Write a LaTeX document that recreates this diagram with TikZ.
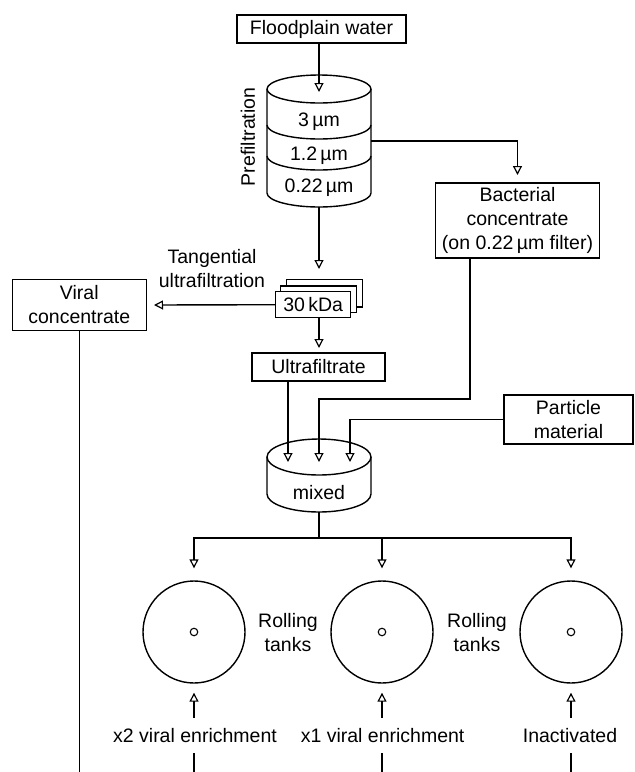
\documentclass[tikz,border=0pt]{standalone}
\usepackage{fontspec}
\setmainfont{Liberation Sans}
\usetikzlibrary{arrows.meta}
\begin{document}
\begin{tikzpicture}[x=1pt,y=-1pt,
  every node/.style={font=\fontsize{19.5}{24}\selectfont},
  box/.style={draw, line width=1.4pt, inner sep=0pt, align=center},
  conn/.style={line width=1.4pt},
  arr/.style={conn, -{Triangle[open,length=9pt,width=9pt,line width=1.2pt]}},
  lbl/.style={align=center, inner sep=0pt},
  tank/.style={draw, circle, line width=1.4pt, minimum size=102pt, inner sep=0pt},
  hub/.style={draw, circle, line width=1.1pt, minimum size=7.5pt, inner sep=0pt}]
\fill[white] (0,0) rectangle (635,772);
\useasboundingbox (0,0) rectangle (635,772);

% boxes
\node[box, minimum width=169pt, minimum height=28pt] (flood) at (321.5,29) {Floodplain water};
\node[box, minimum width=164pt, minimum height=75pt] (bact) at (517.5,220.5) {Bacterial\\concentrate\\(on 0.22\,µm filter)};
\node[box, minimum width=134pt, minimum height=51.5pt] (viral) at (79.3,305) {Viral\\concentrate};
\node[box, minimum width=133pt, minimum height=28pt] (ultra) at (318.5,367) {Ultrafiltrate};
\node[box, minimum width=129pt, minimum height=49pt] (part) at (568.5,419.5) {Particle\\material};

% filter stack
\node[box, fill=white, minimum width=76pt, minimum height=27.7pt] (s3) at (324.7,293.2) {};
\node[box, fill=white, minimum width=76pt, minimum height=26.7pt] (s2) at (318.7,299.3) {};
\node[box, fill=white, minimum width=75pt, minimum height=26pt] (s1) at (313.2,304.7) {30\,kDa};

% prefiltration cylinder
\draw[conn] (319,89) ellipse [x radius=52pt, y radius=14pt];
\draw[conn] (267,89) -- (267,193) arc[start angle=180, end angle=360, x radius=52pt, y radius=14pt] -- (371,89);
\draw[conn] (267,125) arc[start angle=180, end angle=360, x radius=52pt, y radius=14pt];
\draw[conn] (267,156) arc[start angle=180, end angle=360, x radius=52pt, y radius=14pt];
\node[lbl] (f3) at (319,122) {3\,µm};
\node[lbl] (f12) at (319,156) {1.2\,µm};
\node[lbl] (f022) at (319,188) {0.22\,µm};
\node[lbl, rotate=90] (pre) at (248,137) {Prefiltration};

% mixed cylinder
\draw[conn] (319,457) ellipse [x radius=52pt, y radius=18pt];
\draw[conn] (267,457) -- (267,494) arc[start angle=180, end angle=360, x radius=52pt, y radius=18pt] -- (371,457);
\node[lbl] (mixed) at (319,493) {mixed};

% labels
\node[lbl] (tang) at (212,269) {Tangential\\ultrafiltration};
\node[lbl] (roll1) at (288,632.5) {Rolling\\tanks};
\node[lbl] (roll2) at (477,632.5) {Rolling\\tanks};

% tanks
\node[tank] (tank1) at (194,632) {};
\node[tank] (tank2) at (382,632) {};
\node[tank] (tank3) at (571,632) {};
\node[hub] (h1) at (tank1) {};
\node[hub] (h2) at (tank2) {};
\node[hub] (h3) at (tank3) {};

\node[lbl] (e1) at (195,736) {x2 viral enrichment};
\node[lbl] (e2) at (382.6,736) {x1 viral enrichment};
\node[lbl] (e3) at (570,736) {Inactivated};

% coordinates
\coordinate (c1in) at (319,92);
\coordinate (c1right) at (371,141);
\coordinate (bactin) at (517.5,175);
\coordinate (c1bot) at (319,207);
\coordinate (stackin) at (319,269);
\coordinate (ultrain) at (319,348);
\coordinate (viralin) at (154,305);
\coordinate (b1) at (470,399);
\coordinate (m1) at (288,462);
\coordinate (m2) at (319,462);
\coordinate (m3) at (350,462);
\coordinate (mixbot) at (319,512);
\coordinate (split) at (319,538);
\coordinate (bottom) at (0,772);

% connectors
\draw[arr] (flood.south -| c1in) -- (c1in);
\draw[arr] (c1right) -| (bactin);
\draw[arr] (c1bot) -- (stackin);
\draw[arr] (s1.south -| ultrain) -- (ultrain);
\draw[arr] (s1.west) -- (viralin);
\draw[conn] (viral.south) -- (viral.south |- bottom);
\draw[arr] (bact.south -| b1) -- (b1) -| (m2);
\draw[arr] (ultra.south -| m1) -- (m1);
\draw[arr] (part.west) -| (m3);
\draw[conn] (mixbot) -- (split);
\draw[arr] (split) -| ([yshift=12pt]tank1.north);
\draw[arr] (split) -| ([yshift=12pt]tank3.north);
\draw[arr] (split -| tank2) -- ([yshift=12pt]tank2.north);
\foreach \t in {tank1,tank2,tank3}{
  \draw[arr] (\t.south |- 0,717.5) -- ([yshift=-9pt]\t.south);
  \draw[conn] (\t.south |- 0,753) -- (\t.south |- bottom);
}
\end{tikzpicture}
\end{document}
